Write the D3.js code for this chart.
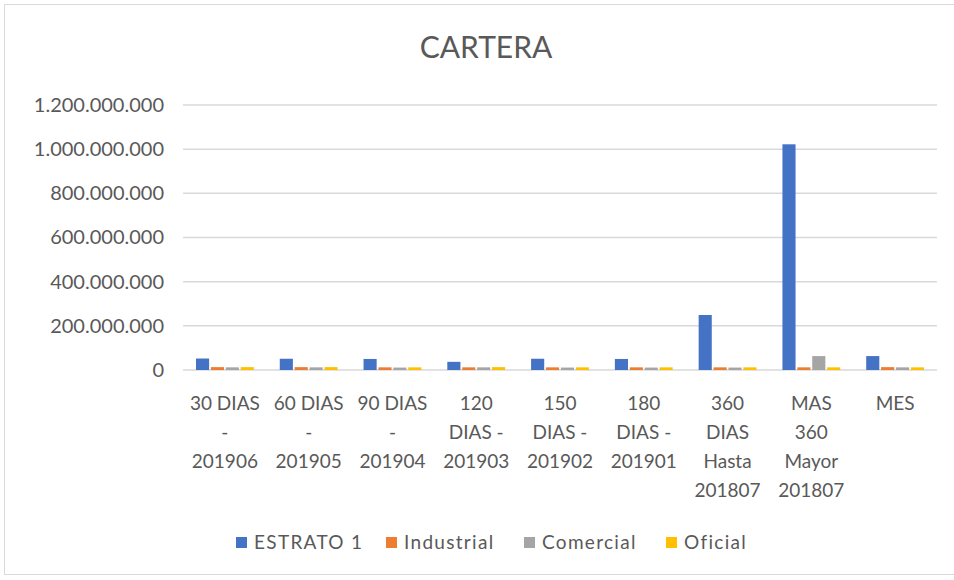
<!DOCTYPE html>
<html>
<head>
<meta charset="utf-8">
<script src="https://cdn.jsdelivr.net/npm/d3@7"></script>
<style>
  body { margin: 0; background: #fff; }
  svg { font-family: Lato, "Open Sans", sans-serif; }
</style>
</head>
<body>
<svg id="chart" width="954" height="580"></svg>
<script>
// categories (line breaks as in the wrapped axis labels)
const categories = [
  '30 DIAS\n-\n201906',
  '60 DIAS\n-\n201905',
  '90 DIAS\n-\n201904',
  '120\nDIAS -\n201903',
  '150\nDIAS -\n201902',
  '180\nDIAS -\n201901',
  '360\nDIAS\nHasta\n201807',
  'MAS\n360\nMayor\n201807',
  'MES'
];
const seriesNames = ['ESTRATO 1', 'Industrial', 'Comercial', 'Oficial'];
const colors = ['#4472c4', '#ed7d31', '#a5a5a5', '#ffc000'];

const estrato1 = [52000000, 51000000, 50000000, 37000000, 51000000, 50000000, 249000000, 1022000000, 63000000];
const industrial = [13000000, 13000000, 12000000, 12000000, 12000000, 12000000, 12000000, 12000000, 13000000];
const comercial = [12000000, 12000000, 11000000, 12000000, 11000000, 11000000, 11000000, 63000000, 12000000];
const oficial = [13000000, 13000000, 12000000, 13000000, 12000000, 12000000, 12000000, 12000000, 12000000];
const yTicks = [0, 200000000, 400000000, 600000000, 800000000, 1000000000, 1200000000];

const series = [estrato1, industrial, comercial, oficial];
const textColor = '#595959';

const svg = d3.select('#chart');

// outer chart border
svg.append('rect')
  .attr('x', 4.5).attr('y', 4.5)
  .attr('width', 954).attr('height', 570)
  .attr('fill', 'none')
  .attr('stroke', '#d9d9d9');

svg.append('text')
  .attr('x', 486).attr('y', 58)
  .attr('text-anchor', 'middle')
  .attr('fill', textColor)
  .attr('font-size', 30)
  .text('CARTERA');

const margin = { left: 183, right: 937, top: 105, bottom: 370 };

const x = d3.scaleBand()
  .domain(categories)
  .range([margin.left, margin.right])
  .paddingInner(0.31)
  .paddingOuter(0.155);

const x1 = d3.scaleBand()
  .domain(seriesNames)
  .range([0, x.bandwidth()])
  .paddingInner(0.12);

const y = d3.scaleLinear()
  .domain([0, 1200000000])
  .range([margin.bottom, margin.top]);

const fmt = v => d3.format(',')(v).replace(/,/g, '.');

// gridlines
svg.append('g')
  .selectAll('line')
  .data(yTicks)
  .join('line')
  .attr('x1', margin.left).attr('x2', margin.right)
  .attr('y1', d => y(d)).attr('y2', d => y(d))
  .attr('stroke', '#d9d9d9')
  .attr('stroke-width', 1.5);

// y axis labels
const yAxis = svg.append('g')
  .attr('transform', `translate(${margin.left - 19},0)`)
  .call(d3.axisLeft(y).tickValues(yTicks).tickFormat(fmt).tickSize(0).tickPadding(0));
yAxis.select('.domain').remove();
yAxis.selectAll('text')
  .attr('fill', textColor)
  .attr('font-size', 20)
  .attr('font-family', 'Lato, "Open Sans", sans-serif');

// bars
const groups = svg.append('g')
  .selectAll('g')
  .data(categories)
  .join('g')
  .attr('transform', d => `translate(${x(d)},0)`);

groups.selectAll('rect')
  .data((d, i) => seriesNames.map((s, j) => ({ s, v: series[j][i], c: colors[j] })))
  .join('rect')
  .attr('x', d => x1(d.s))
  .attr('width', x1.bandwidth())
  .attr('y', d => y(d.v))
  .attr('height', d => y(0) - y(d.v))
  .attr('fill', d => d.c);

// x labels
const xLabels = svg.append('g')
  .selectAll('text')
  .data(categories)
  .join('text')
  .attr('text-anchor', 'middle')
  .attr('fill', textColor)
  .attr('font-size', 19)
  .attr('y', 410);

xLabels.selectAll('tspan')
  .data(d => d.split('\n').map(t => ({ t, c: d })))
  .join('tspan')
  .attr('x', d => x(d.c) + x.bandwidth() / 2)
  .attr('dy', (d, i) => i === 0 ? 0 : 29)
  .text(d => d.t);

// legend
const legendX = [236, 386, 524, 666];
const legend = svg.append('g')
  .selectAll('g')
  .data(seriesNames)
  .join('g')
  .attr('transform', (d, i) => `translate(${legendX[i]},537)`);

legend.append('rect')
  .attr('width', 11).attr('height', 11)
  .attr('fill', (d, i) => colors[i]);

legend.append('text')
  .attr('x', 18).attr('y', 12)
  .attr('fill', textColor)
  .attr('font-size', 19)
  .attr('letter-spacing', 1.3)
  .text(d => d);
</script>
</body>
</html>
